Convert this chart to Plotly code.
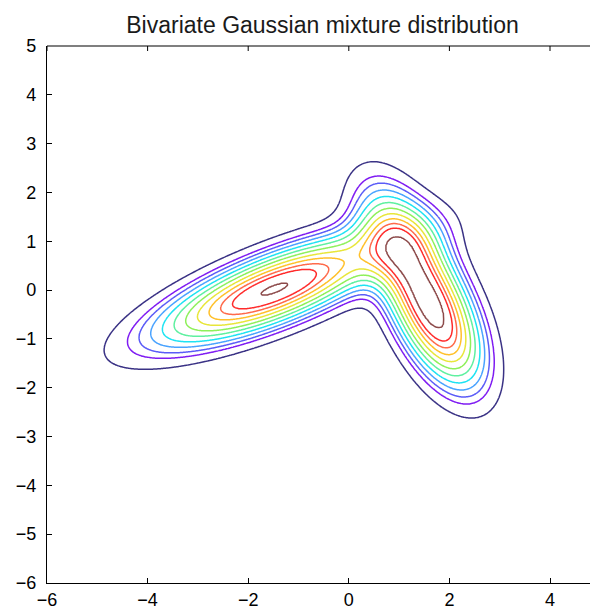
import numpy as np
import plotly.graph_objects as go

# Gaussian mixture components
means_x = [-1.48, 1.002, 1.111, 1.699, 1.808]
means_y = [0.02, 0.865, 0.916, -0.630, -0.579]
sigma_major = [1.64, 0.95, 0.95, 1.00, 1.00]
sigma_minor = [0.45, 0.46, 0.50, 0.46, 0.50]
angles_deg = [22.0, -65.0, -65.0, -65.0, -65.0]
weights = [0.5102, 0.0863, 0.0995, 0.1413, 0.1627]

# contour levels as fractions of the density at the first component's mean
level_fractions = [0.0866, 0.162, 0.213, 0.275, 0.347, 0.428,
                   0.515, 0.607, 0.698, 0.784, 0.862, 0.985]
level_colors = ["#3a3285", "#7f1cf2", "#5b5cf7", "#4aa3ff", "#1ee3f2", "#5ff0a0",
                "#8ef05a", "#e8e63a", "#ffc02a", "#ff6a4a", "#ff2b2b", "#8c4a4a"]

x_ticks = [-6, -4, -2, 0, 2, 4]
y_ticks = [-6, -5, -4, -3, -2, -1, 0, 1, 2, 3, 4, 5]
title_text = "Bivariate Gaussian mixture distribution"


def mixture_pdf(X, Y):
    Z = np.zeros_like(X, dtype=float)
    for mx, my, s1, s2, a, w in zip(means_x, means_y, sigma_major, sigma_minor, angles_deg, weights):
        t = np.deg2rad(a)
        dx, dy = X - mx, Y - my
        u = dx * np.cos(t) + dy * np.sin(t)
        v = -dx * np.sin(t) + dy * np.cos(t)
        Z += w / (2 * np.pi * s1 * s2) * np.exp(-0.5 * ((u / s1) ** 2 + (v / s2) ** 2))
    return Z


xg = np.arange(-5.6, 4.0, 0.02)
yg = np.arange(-3.4, 3.4, 0.02)
XX, YY = np.meshgrid(xg, yg)
ZZ = mixture_pdf(XX, YY)

ref = float(mixture_pdf(np.array([means_x[0]]), np.array([means_y[0]]))[0])
n_levels = len(level_fractions)
# map density onto level index so that contour k sits exactly at level_fractions[k-1]
xp = [0.0] + level_fractions + [max(2.0, float(ZZ.max() / ref) * 1.1)]
fp = list(range(0, n_levels + 1)) + [n_levels + 1]
ZI = np.interp(ZZ / ref, xp, fp)

colorscale = [[k / (n_levels - 1), c] for k, c in enumerate(level_colors)]

fig = go.Figure(go.Contour(
    x=np.round(xg, 3), y=np.round(yg, 3), z=np.round(ZI, 4),
    zmin=1, zmax=n_levels, zauto=False,
    contours=dict(start=1, end=n_levels + 0.5, size=1, coloring="lines"),
    line=dict(width=1.5, smoothing=1),
    colorscale=colorscale, showscale=False, hoverinfo="skip",
))

W, H = 590, 603
ML, MT, MB = 39, 38, 28
plot_h = H - MT - MB
x_end = -6 + (W - ML) / 50.3
tick_len_paper = 5 / plot_h
shapes = [dict(type="line", xref="paper", yref="paper", x0=0, x1=1, y0=1, y1=1,
               line=dict(color="black", width=1.2))]
for xt in x_ticks:
    shapes.append(dict(type="line", xref="x", yref="paper", x0=xt, x1=xt,
                       y0=1, y1=1 - tick_len_paper, line=dict(color="black", width=1)))

fig.update_layout(
    width=W, height=H,
    margin=dict(l=ML, r=0, t=MT, b=MB),
    paper_bgcolor="white", plot_bgcolor="white",
    font=dict(family="Liberation Sans, Arial, sans-serif", size=18, color="black"),
    title=dict(text=title_text, x=0.5, xanchor="center", xref="paper",
               y=1 - 17 / H, yref="container", yanchor="middle",
               font=dict(size=23, color="#1a1a1a")),
    showlegend=False,
    shapes=shapes,
)
fig.update_xaxes(range=[-6, x_end], tickvals=x_ticks, ticks="inside", ticklen=5,
                 tickcolor="black", showline=True, linecolor="black", linewidth=1.2,
                 mirror=False, showgrid=False, zeroline=False, ticklabelstandoff=0,
                 automargin=False)
fig.update_yaxes(range=[-6, 5], tickvals=y_ticks, ticks="inside", ticklen=5,
                 tickcolor="black", showline=True, linecolor="black", linewidth=1.2,
                 mirror=False, showgrid=False, zeroline=False, ticklabelstandoff=6,
                 automargin=False)

fig.write_html("out.html")
